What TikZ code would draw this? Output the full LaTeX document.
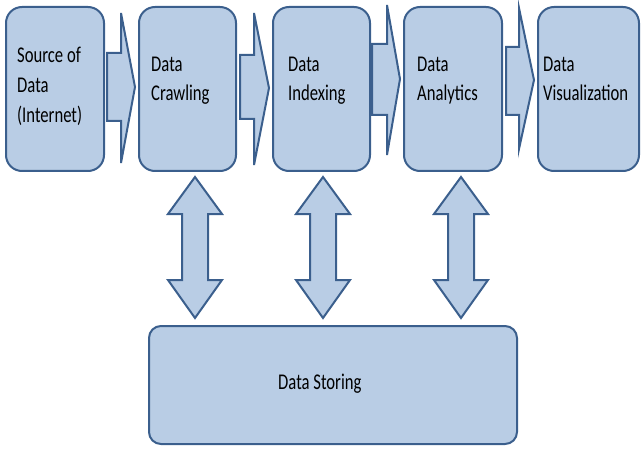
\documentclass[tikz,border=0pt]{standalone}
\usepackage{fontspec}
\setmainfont{Carlito}[FakeStretch=0.74]
\definecolor{boxfill}{HTML}{B9CDE5}
\definecolor{boxline}{HTML}{3B5F8D}
\begin{document}
\begin{tikzpicture}[x=1pt,y=-1pt,
  blk/.style={draw=boxline,fill=boxfill,line width=2pt,rounded corners=16pt},
  arr/.style={draw=boxline,fill=boxfill,line width=2pt,line join=miter},
  lbl/.style={anchor=base west,inner sep=0pt,font=\fontsize{22.5}{29}\selectfont},
]
\useasboundingbox (0,0) rectangle (641,452);
% top boxes
\path[blk] (6,7) rectangle (104,171) coordinate (b1);
\path[blk] (139,7) rectangle (236,171) coordinate (b2);
\path[blk] (273,7) rectangle (370,171) coordinate (b3);
\path[blk] (404,7) rectangle (502,171) coordinate (b4);
\path[blk] (538,7) rectangle (639,171) coordinate (b5);
\path[blk,rounded corners=12pt] (149,326) rectangle (517,444) coordinate (bs);
% right block arrows
\path[arr] (107,53) -- (121,53) -- (121,13) -- (135,87) -- (121,163) -- (121,121) -- (107,121) -- cycle;
\path[arr] (240,55) -- (254,55) -- (254,13) -- (269,88) -- (254,165) -- (254,119) -- (240,119) -- cycle;
\path[arr] (372,44) -- (387,44) -- (387,5) -- (400,79) -- (387,155) -- (387,115) -- (372,115) -- cycle;
\path[arr] (506,47) -- (519,47) -- (519,8) -- (534,80) -- (519,149) -- (519,115) -- (506,115) -- cycle;
% vertical double arrows
\foreach \cx/\nm in {195/va,323/vb,461/vc}{
  \path[arr] (\cx,177) -- (\cx+27,214) -- (\cx+13,214) -- (\cx+13,280) -- (\cx+27,280)
    -- (\cx,318) -- (\cx-27,280) -- (\cx-13,280) -- (\cx-13,214) -- (\cx-27,214) -- cycle;
}
% labels
\node[lbl] (t1a) at (17,63) {Source of};
\node[lbl] (t1b) at (17,93) {Data};
\node[lbl] (t1c) at (17,123) {(Internet)};
\node[lbl] (t2a) at (151,72) {Data};
\node[lbl] (t2b) at (151,101) {Crawling};
\node[lbl] (t3a) at (288,72) {Data};
\node[lbl] (t3b) at (288,101) {Indexing};
\node[lbl] (t4a) at (417,72) {Data};
\node[lbl] (t4b) at (417,101) {Analytics};
\node[lbl] (t5a) at (543,72) {Data};
\node[lbl] (t5b) at (543,101) {Visualization};
\node[lbl] (ts) at (278,389) {Data Storing};
\end{tikzpicture}
\end{document}
